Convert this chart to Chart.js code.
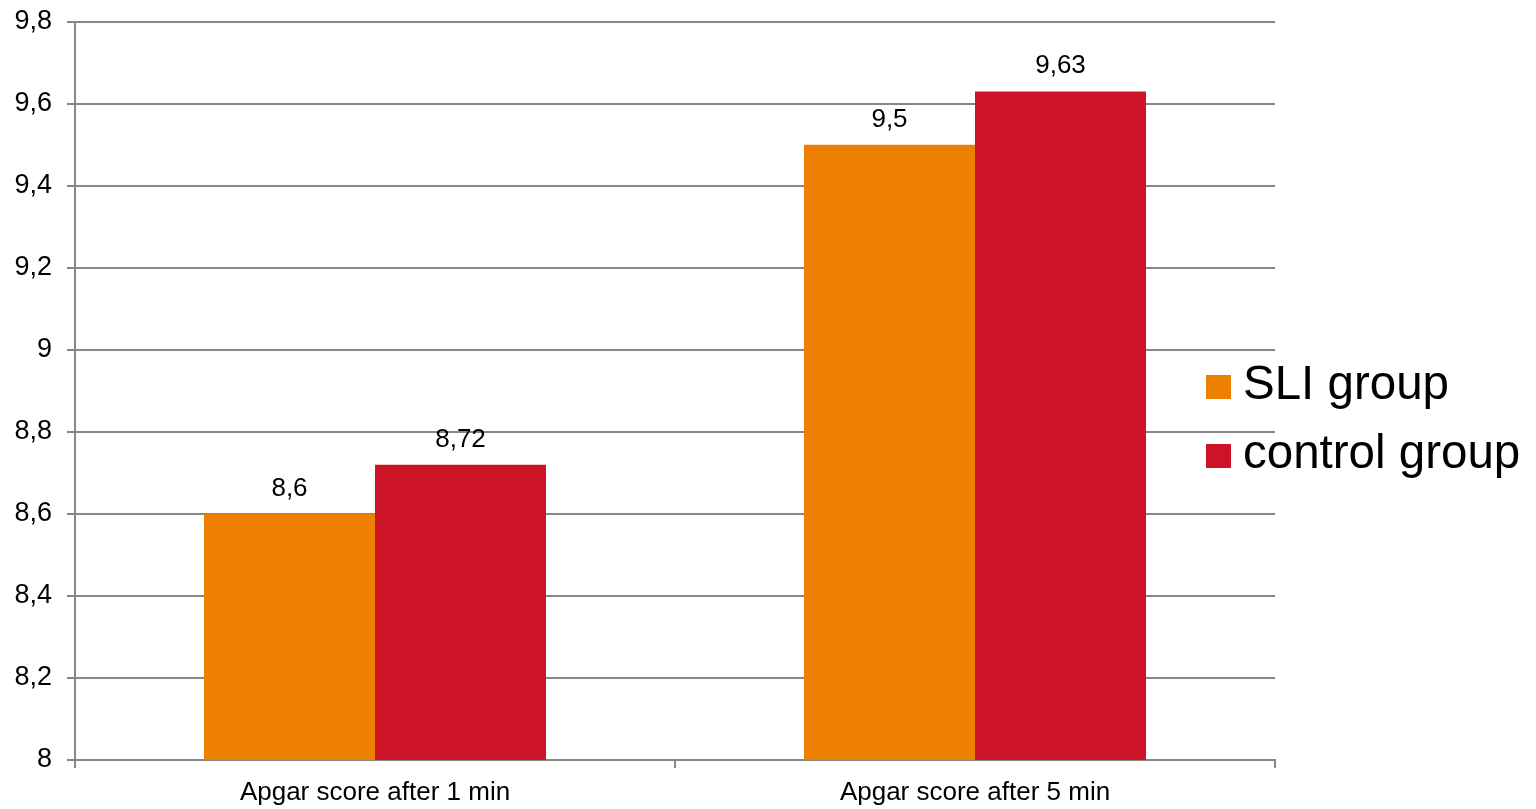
<!DOCTYPE html>
<html>
<head>
<meta charset="utf-8">
<style>
  html, body { margin: 0; padding: 0; background: #fff; }
  #wrap { width: 1536px; height: 809px; }
</style>
<script src="https://cdn.jsdelivr.net/npm/chart.js@4/dist/chart.umd.min.js"></script>
</head>
<body>
<div id="wrap"><canvas id="c" width="1536" height="809"></canvas></div>
<script>
const categories = ['Apgar score after 1 min', 'Apgar score after 5 min'];
const sliGroup = [8.6, 9.5];
const controlGroup = [8.72, 9.63];
const seriesNames = ['SLI group', 'control group'];
const seriesColors = ['#ED8000', '#CD1427'];
const yMin = 8, yMax = 9.8, yStep = 0.2;

const FONT = 'Liberation Sans, Arial, sans-serif';
const GRID = '#878787';

function fmt(v) {
  return String(Math.round(v * 100) / 100).replace('.', ',');
}

// value labels above each bar
const valueLabels = {
  id: 'valueLabels',
  afterDatasetsDraw(chart) {
    const ctx = chart.ctx;
    ctx.save();
    ctx.font = '26px ' + FONT;
    ctx.fillStyle = '#000';
    ctx.textAlign = 'center';
    ctx.textBaseline = 'alphabetic';
    chart.data.datasets.forEach((ds, i) => {
      chart.getDatasetMeta(i).data.forEach((bar, j) => {
        ctx.fillText(fmt(ds.data[j]), bar.x, bar.y - 18);
      });
    });
    ctx.restore();
  }
};

// legend block near the right edge
const sideLegend = {
  id: 'sideLegend',
  afterDraw(chart) {
    const ctx = chart.ctx;
    const area = chart.chartArea;
    ctx.save();
    ctx.font = '47.5px ' + FONT;
    ctx.textBaseline = 'alphabetic';
    ctx.textAlign = 'left';
    chart.data.datasets.forEach((ds, i) => {
      const base = 399 + i * 69;
      ctx.fillStyle = ds.backgroundColor;
      ctx.fillRect(area.right - 69, base - 24, 25, 24);
      ctx.fillStyle = '#000';
      ctx.fillText(ds.label, area.right - 32, base);
    });
    ctx.restore();
  }
};

new Chart(document.getElementById('c'), {
  type: 'bar',
  data: {
    labels: categories,
    datasets: [
      { label: seriesNames[0], data: sliGroup, backgroundColor: seriesColors[0] },
      { label: seriesNames[1], data: controlGroup, backgroundColor: seriesColors[1] }
    ]
  },
  options: {
    responsive: false,
    animation: false,
    devicePixelRatio: 1,
    layout: { padding: { top: 21, right: 261, left: 0, bottom: 0 } },
    datasets: { bar: { categoryPercentage: 0.57, barPercentage: 1.0, borderWidth: 0 } },
    plugins: { legend: { display: false }, tooltip: { enabled: false } },
    scales: {
      x: {
        grid: { offset: true, drawOnChartArea: false, drawTicks: true, tickLength: 8, color: GRID, lineWidth: 2 },
        border: { display: true, color: GRID, width: 2 },
        ticks: { color: '#000', font: { family: FONT, size: 26 }, padding: 9, maxRotation: 0 },
        afterFit(scale) { scale.height = 49; }
      },
      y: {
        min: yMin, max: yMax,
        grid: { color: GRID, lineWidth: 2, tickLength: 8 },
        border: { display: true, color: GRID, width: 2 },
        ticks: { stepSize: yStep, color: '#000', font: { family: FONT, size: 27, lineHeight: 0.5 }, padding: 15,
                 callback: (v) => fmt(v) },
        afterFit(scale) { scale.width = 75; }
      }
    }
  },
  plugins: [valueLabels, sideLegend]
});
</script>
</body>
</html>
